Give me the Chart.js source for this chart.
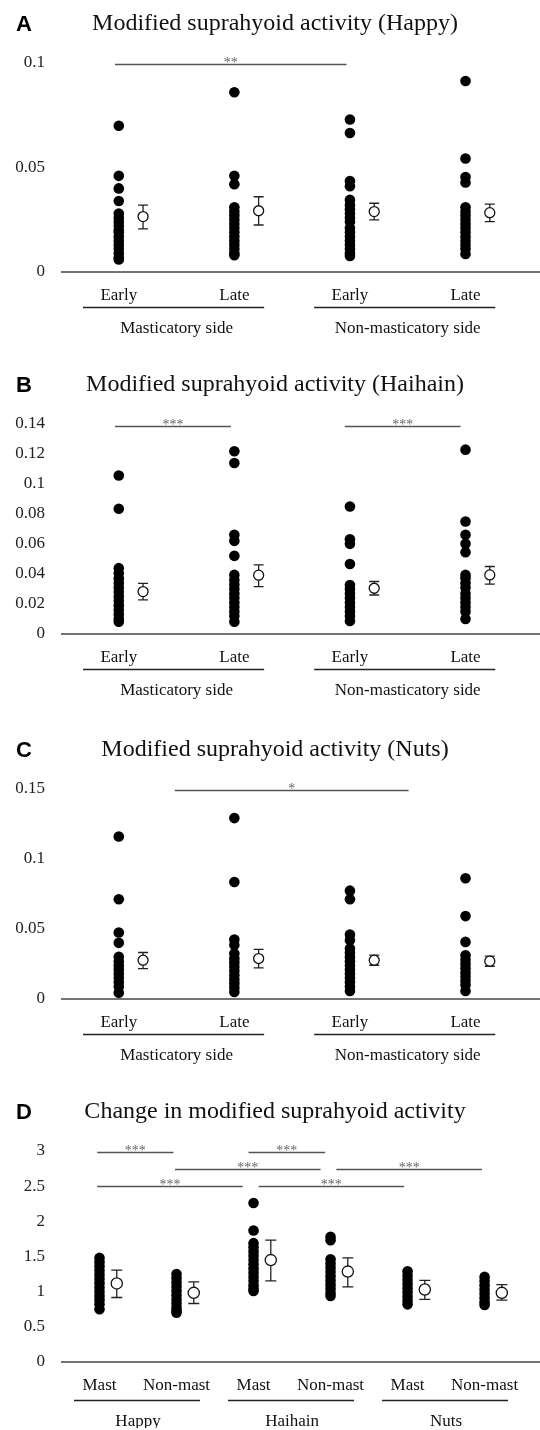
<!DOCTYPE html>
<html lang="en">
<head>
  <meta charset="UTF-8">
  <title>Modified suprahyoid activity</title>
  <script src="https://cdn.jsdelivr.net/npm/chart.js"></script>
  <style>
    body {
      margin: 0;
      background: #fff;
      width: 540px;
      height: 1430px;
      overflow: hidden;
      position: relative;
    }
    canvas {
      position: absolute;
      left: 0;
    }
  </style>
</head>
<body>
<canvas id="chartA" width="540" height="340" style="top:0px"></canvas>
<canvas id="chartB" width="540" height="340" style="top:361px"></canvas>
<canvas id="chartC" width="540" height="340" style="top:726px"></canvas>
<canvas id="chartD" width="540" height="340" style="top:1088px"></canvas>

<script>
  // categories
  const sideCategories = ["Early", "Late", "Early", "Late"];
  const sideGroups = ["Masticatory side", "Non-masticatory side"];
  const changeCategories = ["Mast", "Non-mast", "Mast", "Non-mast", "Mast", "Non-mast"];
  const foodGroups = ["Happy", "Haihain", "Nuts"];

  // A - Happy
  const happyTicks = [0, 0.05, 0.1];
  const happyDots = [
    [0.070, 0.046, 0.040, 0.034, 0.028, 0.026, 0.024, 0.022, 0.020, 0.019, 0.017, 0.015, 0.013, 0.011, 0.009, 0.007, 0.006],
    [0.086, 0.046, 0.042, 0.031, 0.029, 0.027, 0.025, 0.023, 0.021, 0.019, 0.017, 0.015, 0.013, 0.011, 0.009, 0.008],
    [0.073, 0.0665, 0.0435, 0.041, 0.0345, 0.032, 0.030, 0.028, 0.026, 0.024, 0.021, 0.019, 0.017, 0.015, 0.013, 0.011, 0.009, 0.0077],
    [0.0914, 0.0543, 0.0454, 0.0428, 0.031, 0.029, 0.027, 0.025, 0.023, 0.021, 0.019, 0.017, 0.015, 0.013, 0.011, 0.0086]
  ];
  const happyMeans = [0.0265, 0.0293, 0.0289, 0.0284];
  const happyLow = [0.0206, 0.0225, 0.0249, 0.0241];
  const happyHigh = [0.032, 0.036, 0.0329, 0.0325];
  const happySig = [[0.467, 2.47, 0.0995, "**"]];

  // B - Haihain
  const haihainTicks = [0, 0.02, 0.04, 0.06, 0.08, 0.1, 0.12, 0.14];
  const haihainDots = [
    [0.1057, 0.0835, 0.0439, 0.0405, 0.037, 0.034, 0.031, 0.028, 0.025, 0.022, 0.019, 0.016, 0.013, 0.010, 0.0082],
    [0.1218, 0.114, 0.0661, 0.0621, 0.0521, 0.0394, 0.036, 0.033, 0.030, 0.027, 0.024, 0.021, 0.018, 0.015, 0.012, 0.0082],
    [0.085, 0.0632, 0.0601, 0.0467, 0.0327, 0.030, 0.027, 0.024, 0.021, 0.018, 0.015, 0.012, 0.0087],
    [0.1229, 0.075, 0.0661, 0.0601, 0.0545, 0.0394, 0.0372, 0.034, 0.031, 0.027, 0.024, 0.021, 0.018, 0.015, 0.010]
  ];
  const haihainMeans = [0.0283, 0.0392, 0.0305, 0.0394];
  const haihainLow = [0.0227, 0.0316, 0.026, 0.0332];
  const haihainHigh = [0.0338, 0.0461, 0.035, 0.045];
  const haihainSig = [[0.467, 1.47, 0.1385, "***"], [2.455, 3.457, 0.1385, "***"]];

  // C - Nuts
  const nutsTicks = [0, 0.05, 0.1, 0.15];
  const nutsDots = [
    [0.1161, 0.0712, 0.0475, 0.0401, 0.0301, 0.027, 0.024, 0.021, 0.018, 0.015, 0.012, 0.009, 0.0045],
    [0.1292, 0.0836, 0.0425, 0.0385, 0.0325, 0.029, 0.026, 0.023, 0.020, 0.017, 0.014, 0.011, 0.008, 0.005],
    [0.0774, 0.0712, 0.0461, 0.042, 0.0361, 0.033, 0.030, 0.027, 0.024, 0.021, 0.018, 0.015, 0.012, 0.009, 0.0057],
    [0.0862, 0.0592, 0.0408, 0.0313, 0.028, 0.025, 0.022, 0.019, 0.016, 0.013, 0.010, 0.0057]
  ];
  const nutsMeans = [0.0277, 0.0289, 0.0277, 0.027];
  const nutsLow = [0.0217, 0.0222, 0.0241, 0.0234];
  const nutsHigh = [0.0332, 0.0354, 0.0313, 0.0306];
  const nutsSig = [[0.985, 3.008, 0.149, "*"]];

  // D - change
  const changeTicks = [0, 0.5, 1, 1.5, 2, 2.5, 3];
  const changeDots = [
    [1.48, 1.42, 1.36, 1.30, 1.24, 1.18, 1.12, 1.06, 1.00, 0.94, 0.88, 0.82, 0.75],
    [1.25, 1.19, 1.13, 1.07, 1.01, 0.95, 0.89, 0.83, 0.77, 0.73, 0.70],
    [2.26, 1.87, 1.69, 1.63, 1.57, 1.51, 1.45, 1.39, 1.33, 1.27, 1.21, 1.15, 1.09, 1.04, 1.01],
    [1.78, 1.73, 1.46, 1.40, 1.34, 1.28, 1.22, 1.16, 1.10, 1.04, 0.98, 0.94],
    [1.29, 1.23, 1.17, 1.11, 1.05, 0.99, 0.93, 0.87, 0.82],
    [1.21, 1.15, 1.09, 1.03, 0.97, 0.91, 0.85, 0.81]
  ];
  const changeMeans = [1.117, 0.983, 1.449, 1.285, 1.031, 0.983];
  const changeLow = [0.917, 0.832, 1.154, 1.068, 0.889, 0.879];
  const changeHigh = [1.306, 1.14, 1.734, 1.48, 1.16, 1.10];
  const changeSig = [
    [0.47, 1.46, 2.99, "***"], [2.435, 3.43, 2.99, "***"],
    [1.48, 3.37, 2.739, "***"], [3.575, 5.466, 2.739, "***"],
    [0.47, 2.36, 2.50, "***"], [2.565, 4.456, 2.50, "***"]
  ];

  Chart.defaults.font.family = "'Liberation Serif', 'Times New Roman', serif";
  Chart.defaults.color = "#222";

  // draws baseline, error bars, labels, group lines and significance bars
  function makeDecor(p) {
    return {
      id: "decor" + p.letter,
      beforeDatasetsDraw(chart) {
        const { ctx, chartArea, scales: { x, y } } = chart;
        ctx.save();
        const y0 = y.getPixelForValue(0);
        ctx.strokeStyle = "#444";
        ctx.lineWidth = 1.5;
        ctx.beginPath();
        ctx.moveTo(chartArea.left, y0);
        ctx.lineTo(chart.width, y0);
        ctx.stroke();

        ctx.strokeStyle = "#222";
        ctx.lineWidth = 1.3;
        p.means.forEach((m, i) => {
          const px = x.getPixelForValue(i + 0.5 + p.shift);
          const yl = y.getPixelForValue(p.low[i]);
          const yh = y.getPixelForValue(p.high[i]);
          ctx.beginPath();
          ctx.moveTo(px, yh); ctx.lineTo(px, yl);
          ctx.moveTo(px - p.cap, yh); ctx.lineTo(px + p.cap, yh);
          ctx.moveTo(px - p.cap, yl); ctx.lineTo(px + p.cap, yl);
          ctx.stroke();
        });
        ctx.restore();
      },
      afterDraw(chart) {
        const { ctx, scales: { x, y } } = chart;
        const bottom = y.getPixelForValue(0);
        ctx.save();

        // panel letter + title
        ctx.fillStyle = "#000";
        ctx.textBaseline = "alphabetic";
        ctx.textAlign = "left";
        ctx.font = "bold 22px 'Liberation Sans', Arial, sans-serif";
        ctx.fillText(p.letter, 16, 31);
        ctx.textAlign = "center";
        ctx.fillStyle = "#111";
        ctx.font = "24px 'Liberation Serif', serif";
        ctx.fillText(p.title, 275, 30);

        // category labels
        ctx.font = "17px 'Liberation Serif', serif";
        ctx.fillStyle = "#111";
        p.categories.forEach((c, i) => {
          ctx.fillText(c, x.getPixelForValue(i + 0.5), bottom + 27.5);
        });

        // group underlines + labels
        ctx.strokeStyle = "#222";
        ctx.lineWidth = 1.3;
        p.groups.forEach((g, gi) => {
          const x1 = x.getPixelForValue(gi * 2) + p.inL;
          const x2 = x.getPixelForValue(gi * 2 + 2) - p.inR;
          const ly = Math.round(bottom + p.lineOff) + 0.5;
          ctx.beginPath();
          ctx.moveTo(x1, ly); ctx.lineTo(x2, ly);
          ctx.stroke();
          ctx.fillText(g, x.getPixelForValue(gi * 2 + 1), bottom + p.groupOff);
        });

        // significance bars
        ctx.strokeStyle = "#555";
        ctx.fillStyle = "#666";
        ctx.font = "14px 'Liberation Serif', serif";
        p.sig.forEach(([a, b, v, stars]) => {
          const x1 = x.getPixelForValue(a);
          const x2 = x.getPixelForValue(b);
          const sy = Math.round(y.getPixelForValue(v)) + 0.5;
          ctx.beginPath();
          ctx.moveTo(x1, sy); ctx.lineTo(x2, sy);
          ctx.stroke();
          ctx.fillText(stars, (x1 + x2) / 2, sy + 2);
        });
        ctx.restore();
      }
    };
  }

  function buildChart(id, p) {
    const dots = [];
    p.dots.forEach((vals, i) => vals.forEach(v => dots.push({ x: i + 0.5, y: v })));
    const means = p.means.map((m, i) => ({ x: i + 0.5 + p.shift, y: m }));

    new Chart(document.getElementById(id), {
      type: "scatter",
      data: {
        datasets: [
          { data: dots, pointRadius: 5.3, backgroundColor: "#000", borderWidth: 0 },
          { data: means, pointRadius: p.meanR, backgroundColor: "#fff", borderColor: "#111", borderWidth: 1.3 }
        ]
      },
      options: {
        responsive: false,
        animation: false,
        events: [],
        layout: { padding: { top: 63, bottom: 340 - 63 - p.areaH, left: 0, right: 0 } },
        plugins: { legend: { display: false }, tooltip: { enabled: false } },
        scales: {
          x: { type: "linear", display: false, min: 0, max: p.xMax },
          y: {
            min: 0,
            max: p.ticks[p.ticks.length - 1],
            grid: { display: false, drawTicks: false },
            border: { display: false },
            ticks: { padding: 16, font: { size: 17 }, color: "#222", callback: v => String(v) },
            afterBuildTicks: s => { s.ticks = p.ticks.map(v => ({ value: v })); },
            afterFit: s => { s.width = 61; }
          }
        }
      },
      plugins: [makeDecor(p)]
    });
  }

  const sideLayout = { xMax: 4.09, shift: 0.21, cap: 5, meanR: 5, inL: 22, inR: 28, lineOff: 35, groupOff: 61 };

  buildChart("chartA", Object.assign({}, sideLayout, {
    letter: "A", title: "Modified suprahyoid activity (Happy)", areaH: 209,
    categories: sideCategories, groups: sideGroups, ticks: happyTicks,
    dots: happyDots, means: happyMeans, low: happyLow, high: happyHigh, sig: happySig
  }));
  buildChart("chartB", Object.assign({}, sideLayout, {
    letter: "B", title: "Modified suprahyoid activity (Haihain)", areaH: 210,
    categories: sideCategories, groups: sideGroups, ticks: haihainTicks,
    dots: haihainDots, means: haihainMeans, low: haihainLow, high: haihainHigh, sig: haihainSig
  }));
  buildChart("chartC", Object.assign({}, sideLayout, {
    letter: "C", title: "Modified suprahyoid activity (Nuts)", areaH: 210,
    categories: sideCategories, groups: sideGroups, ticks: nutsTicks,
    dots: nutsDots, means: nutsMeans, low: nutsLow, high: nutsHigh, sig: nutsSig
  }));
  buildChart("chartD", {
    letter: "D", title: "Change in modified suprahyoid activity", areaH: 211,
    xMax: 6.13, shift: 0.224, cap: 5.5, meanR: 5.6, inL: 13, inR: 15, lineOff: 38, groupOff: 64,
    categories: changeCategories, groups: foodGroups, ticks: changeTicks,
    dots: changeDots, means: changeMeans, low: changeLow, high: changeHigh, sig: changeSig
  });
</script>
</body>
</html>
